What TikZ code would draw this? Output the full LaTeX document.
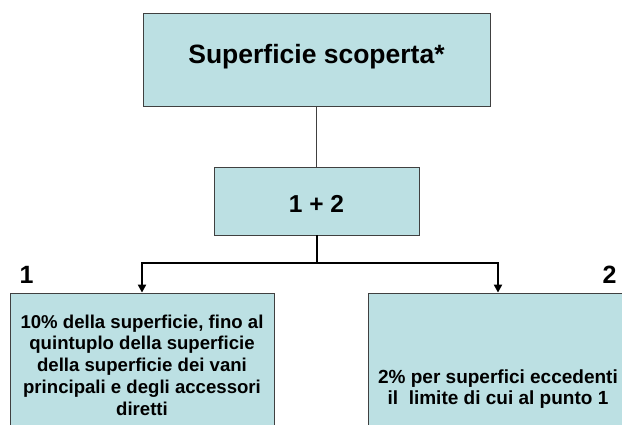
\documentclass[tikz,border=0pt]{standalone}
\usepackage{fontspec}
\setmainfont{Liberation Sans}
\usetikzlibrary{arrows.meta,positioning}
\definecolor{boxfill}{HTML}{BCE0E3}
\definecolor{boxline}{HTML}{404040}

\begin{document}
\begin{tikzpicture}[x=1pt,y=-1pt,
    box/.style={draw=boxline,fill=boxfill,line width=0.8pt,align=center,
      inner sep=0pt,font=\bfseries},
    link/.style={line width=2pt,-{Triangle[length=8pt,width=8pt]}}]
  \clip (0,0) rectangle (622,424);
  \fill[white] (0,0) rectangle (622,424);
  % boxes
  \node[box,minimum width=347,minimum height=93,text height=19.6pt,text depth=13.6pt,
    font=\bfseries\fontsize{26.5}{30}\selectfont]
    (top) at (316.5,60) {Superficie scoperta*};
  \node[box,minimum width=205,minimum height=68,text height=22pt,text depth=0pt,
    font=\bfseries\fontsize{24.5}{28}\selectfont]
    (sum) at (316.5,201) {1 + 2};
  \node[box,minimum width=264,minimum height=144,font=\bfseries\fontsize{18.6}{21.7}\selectfont]
    (first) at (142,365) {10\% della superficie, fino al\\quintuplo della superficie\\della superficie dei vani\\principali e degli accessori\\diretti};
  \node[box,minimum width=260,minimum height=192,font=\bfseries\fontsize{19}{21.7}\selectfont]
    (second) at (498,389) {2\% per superfici eccedenti\\il~ limite di cui al punto 1};
  \node[anchor=base,font=\bfseries\fontsize{25}{29}\selectfont] (n1) at (26.5,283) {1};
  \node[anchor=base,font=\bfseries\fontsize{25}{29}\selectfont] (n2) at (609.5,283) {2};
  % connectors
  \draw[boxline,line width=0.8pt] (top.south) -- (sum.north);
  \coordinate (split) at (316.5,263);
  \draw[line width=2pt] (sum.south) -- (split);
  \draw[link] (split) -| (first.north);
  \draw[link] (split) -| (second.north);
\end{tikzpicture}
\end{document}
